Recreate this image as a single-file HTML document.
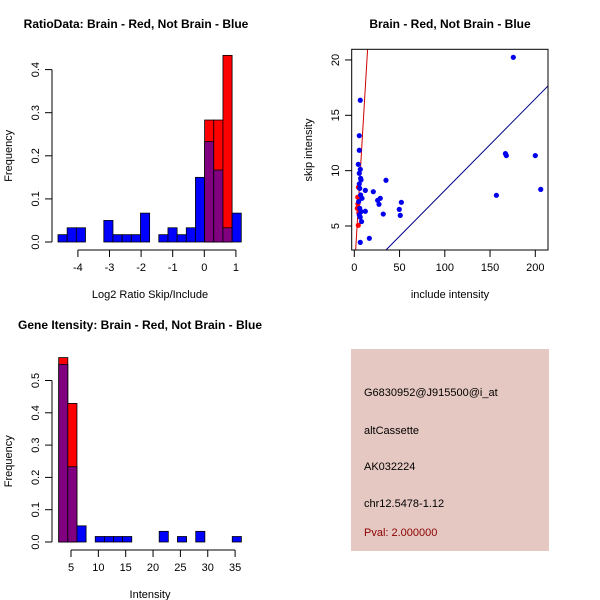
<!DOCTYPE html>
<html><head><meta charset="utf-8"><style>
body{margin:0;background:#fff}
svg{display:block;font-family:"Liberation Sans",sans-serif}
</style></head><body>
<svg id="c" width="600" height="600" xmlns="http://www.w3.org/2000/svg"></svg>
<script>
// Plot 1: ratio histogram
const ratioStart = -4.63, ratioWidth = 0.29;
const ratioBlue = [0.017,0.033,0.033,0,0,0.05,0.017,0.017,0.017,0.067,0,0.017,0.033,0.017,0.033,0.15,0.233,0.167,0.033,0.067];
const ratioRed  = [0,0,0,0,0,0,0,0,0,0,0,0,0,0,0,0,0.283,0.283,0.433,0];
const ratioXTicks = [-4,-3,-2,-1,0,1];
const ratioYTicks = [0,0.1,0.2,0.3,0.4];
// Plot 2: scatter
const scatterBlueX = [175.7,6.6,5.5,5.5,4.4,6.6,5.5,7.4,35,12.2,21,8.5,25.8,28.7,27.3,52,49.7,50.8,32,12.2,8,16.6,6.6,167,168,200,206,157,6,7,6,7.5,5.5,4.8,5.5,7,6.5];
const scatterBlueY = [20.24,16.36,13.16,11.84,10.57,10.12,9.76,9.16,9.13,8.22,8.1,7.5,7.32,7.5,6.96,7.14,6.5,5.96,6.08,6.33,5.4,3.89,3.52,11.54,11.36,11.36,8.31,7.77,8.4,7.8,6.6,6.3,6.0,7.2,8.8,9.3,5.8];
const scatterRedX = [4.4,3.3,3.8,4.6,5,4];
const scatterRedY = [5.06,6.6,7.6,8.5,6.2,7.0];
const scatterXTicks = [0,50,100,150,200];
const scatterYTicks = [5,10,15,20];
const redLine = [[1.5,2.83],[14.7,21]];
const blueLine = [[35,2.83],[214,17.65]];
// Plot 3: intensity histogram
const intStart = 2.75, intWidth = 1.67;
const intBlue = [0.55,0.233,0.05,0,0.017,0.017,0.017,0.017,0,0,0,0.033,0,0.017,0,0.033,0,0,0,0.017];
const intRed  = [0.571,0.429,0,0,0,0,0,0,0,0,0,0,0,0,0,0,0,0,0,0];
const intXTicks = [5,10,15,20,25,30,35];
const intYTicks = [0,0.1,0.2,0.3,0.4,0.5];

const svg = document.getElementById('c');
const NS = 'http://www.w3.org/2000/svg';
function mk(tag, attrs, parent){const e=document.createElementNS(NS,tag);for(const k in attrs)e.setAttribute(k,attrs[k]);(parent||svg).appendChild(e);return e;}
function txt(s, x, y, size, attrs, parent){const e=mk('text',Object.assign({x:x,y:y,'font-size':size,'text-anchor':'middle'},attrs||{}),parent);e.textContent=s;return e;}

function hist(name, x0px, x1, xs, y0px, ys, start, width, blue, red, xticks, yticks, title, titleY, xlab, tickY){
  const g = mk('g',{});
  
  
  const X = v => x0px + (v - x1) * xs;
  const Y = v => y0px - v * ys;
  for(let i=0;i<blue.length;i++){
    const a=X(start+i*width), b=X(start+(i+1)*width);
    const bl=blue[i], rd=red[i];
    const m=Math.min(bl,rd), M=Math.max(bl,rd);
    if(M<=0) continue;
    const topCol = rd>bl ? '#ff0000' : '#0000ff';
    const r1 = mk('rect',{x:a,y:Y(M),width:b-a,height:Y(0)-Y(M),fill:topCol,stroke:'#000','stroke-width':0.8},g);
    
    
    if(m>0){
      const r2 = mk('rect',{x:a,y:Y(m),width:b-a,height:Y(0)-Y(m),fill:'#800080',stroke:'#000','stroke-width':0.8},g);
      
      
    }
  }
  const yax = mk('g',{},g);
  
  
  mk('line',{x1:52,x2:52,y1:Y(yticks[0]),y2:Y(yticks[yticks.length-1]),stroke:'#000'},yax);
  yticks.forEach(t=>{
    mk('line',{x1:45,x2:52,y1:Y(t),y2:Y(t),stroke:'#000'},yax);
    const l=txt(t===0?'0.0':String(t),39,Y(t),11,{transform:`rotate(-90 39 ${Y(t)})`},yax);
    
    
  });
  const xax = mk('g',{},g);
  
  
  mk('line',{x1:X(xticks[0]),x2:X(xticks[xticks.length-1]),y1:tickY,y2:tickY,stroke:'#000'},xax);
  xticks.forEach(t=>{
    mk('line',{x1:X(t),x2:X(t),y1:tickY,y2:tickY+7,stroke:'#000'},xax);
    const l=txt(String(t),X(t),tickY+21,11,{},xax);
    
    
  });
  const tt=txt(title,title.startsWith('Ratio')?136:140,titleY,12,{'font-weight':'bold'},g);
  
  
  const xl=txt(xlab,150,tickY+48,11,{},g);
  
  
  const yl=txt('Frequency',12,(y0px+Y(yticks[yticks.length-1]))/2,11,{transform:`rotate(-90 12 ${(y0px+Y(yticks[yticks.length-1]))/2})`},g);
  
  
}

hist('ratio-histogram', 204.3, 0, 31.6, 242, 431, ratioStart, ratioWidth, ratioBlue, ratioRed, ratioXTicks, ratioYTicks, 'RatioData: Brain - Red, Not Brain - Blue', 28, 'Log2 Ratio Skip/Include', 250);
hist('intensity-histogram', 71, 5, 5.47, 542, 323, intStart, intWidth, intBlue, intRed, intXTicks, intYTicks, 'Gene Itensity: Brain - Red, Not Brain - Blue', 329, 'Intensity', 550);

// scatter
(function(){
  const g = mk('g',{});
  
  
  const X = v => 354.3 + v * 0.905;
  const Y = v => 226 - (v - 5) * 11.07;
  const cp = mk('clipPath',{id:'cp'},g);
  mk('rect',{x:351.7,y:49.3,width:196.3,height:200.7},cp);
  const lr = mk('line',{x1:X(redLine[0][0]),y1:Y(redLine[0][1]),x2:X(redLine[1][0]),y2:Y(redLine[1][1]),stroke:'#d00000','stroke-width':1,'clip-path':'url(#cp)'},g);
  
  
  const lb = mk('line',{x1:X(blueLine[0][0]),y1:Y(blueLine[0][1]),x2:X(blueLine[1][0]),y2:Y(blueLine[1][1]),stroke:'#00008b','stroke-width':1,'clip-path':'url(#cp)'},g);
  
  
  scatterRedX.forEach((x,i)=>{
    const p=mk('circle',{cx:X(x),cy:Y(scatterRedY[i]),r:2.6,fill:'#ff0000'},g);
    
    
  });
  scatterBlueX.forEach((x,i)=>{
    const p=mk('circle',{cx:X(x),cy:Y(scatterBlueY[i]),r:2.6,fill:'#0000ee'},g);
    
    
  });
  mk('rect',{x:351.7,y:49.3,width:196.3,height:200.7,fill:'none',stroke:'#000'},g);
  scatterXTicks.forEach(t=>{
    mk('line',{x1:X(t),x2:X(t),y1:250,y2:257,stroke:'#000'},g);
    const l=txt(String(t),X(t),271,11,{},g);
    
    
  });
  mk('line',{x1:X(0),x2:X(200),y1:250,y2:250,stroke:'#000'},g);
  scatterYTicks.forEach(t=>{
    mk('line',{x1:345,x2:351.7,y1:Y(t),y2:Y(t),stroke:'#000'},g);
    const l=txt(String(t),339,Y(t),11,{transform:`rotate(-90 339 ${Y(t)})`},g);
    
    
  });
  const tt=txt('Brain - Red, Not Brain - Blue',450,28,12,{'font-weight':'bold'},g);
  
  
  const xl=txt('include intensity',450,298,11,{},g);
  
  
  const yl=txt('skip intensity',312,150,11,{transform:'rotate(-90 312 150)'},g);
  
  
})();

// info panel
(function(){
  const g = mk('g',{});
  
  
  mk('rect',{x:351,y:349,width:198,height:202,fill:'#e6c8c2'},g);
  const lines=[['G6830952@J915500@i_at',396,'#000','probe-id'],['altCassette',434,'#000','event-type'],['AK032224',470,'#000','accession'],['chr12.5478-1.12',507,'#000','location'],['Pval: 2.000000',536,'#8b0000','p-value']];
  lines.forEach(l=>{
    const t=txt(l[0],364,l[1],11,{'text-anchor':'start',fill:l[2]},g);
    
    
  });
})();
</script>
</body></html>
